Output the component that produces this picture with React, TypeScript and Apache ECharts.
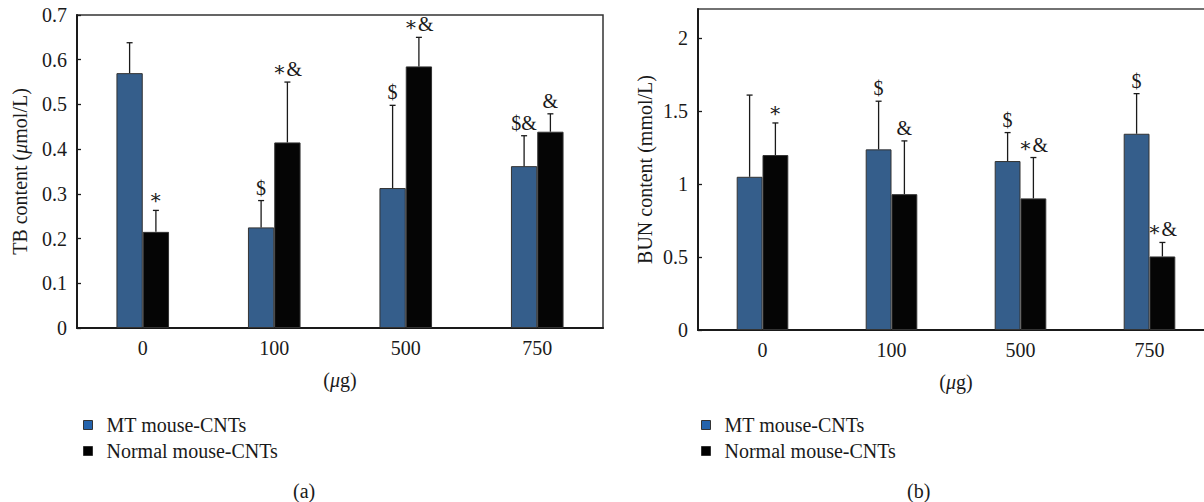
import React, { useEffect, useRef } from "react";
import * as echarts from "echarts";

const categories = ["0", "100", "500", "750"];
const seriesNames = ["MT mouse-CNTs", "Normal mouse-CNTs"];

// (a) TB content (μmol/L)
const tbMT = [0.57, 0.225, 0.313, 0.362];
const tbMTErr = [0.068, 0.06, 0.185, 0.068];
const tbMTMarks = ["", "$", "$", "$&"];
const tbNormal = [0.215, 0.415, 0.585, 0.439];
const tbNormalErr = [0.048, 0.135, 0.065, 0.04];
const tbNormalMarks = ["∗", "∗&", "∗&", "&"];
const tbTicks = { min: 0, max: 0.7, interval: 0.1 };

// (b) BUN content (mmol/L)
const bunMT = [1.05, 1.238, 1.158, 1.345];
const bunMTErr = [0.56, 0.33, 0.195, 0.275];
const bunMTMarks = ["", "$", "$", "$"];
const bunNormal = [1.199, 0.931, 0.902, 0.504];
const bunNormalErr = [0.22, 0.365, 0.28, 0.096];
const bunNormalMarks = ["∗", "&", "∗&", "∗&"];
const bunTicks = { min: 0, max: 2.2, interval: 0.5 };

const FONT = "'Liberation Serif', 'DejaVu Serif', serif";
const BLUE = "#355e8b";
const BLACK = "#050505";
const FS = 20;

function errSeries(
  idx: number,
  values: number[],
  errs: number[],
  marks: string[],
  sign: number
) {
  return {
    type: "custom",
    xAxisIndex: idx,
    yAxisIndex: idx,
    z: 5,
    silent: true,
    data: values.map((v, i) => [i, v, errs[i]]),
    renderItem: (params: any, api: any) => {
      const ci = api.value(0);
      const v = api.value(1);
      const e = api.value(2);
      const base = api.coord([ci, v]);
      const top = api.coord([ci, v + e]);
      const band = api.size([1, 0])[0];
      const x = base[0] + sign * band * 0.1;
      const stroke = { stroke: "#1a1a1a", lineWidth: 1.3 };
      const children: any[] = [
        { type: "line", shape: { x1: x, y1: base[1], x2: x, y2: top[1] }, style: stroke },
        { type: "line", shape: { x1: x - 3, y1: top[1], x2: x + 3, y2: top[1] }, style: stroke },
      ];
      const m = marks[params.dataIndex];
      if (m) {
        children.push({
          type: "text",
          x: x,
          y: top[1] - 3,
          style: {
            text: m,
            fontFamily: FONT,
            fontSize: FS,
            fill: "#1a1a1a",
            align: "center",
            verticalAlign: "bottom",
          },
        });
      }
      return { type: "group", children };
    },
  };
}

function barSeries(idx: number, name: string, values: number[], color: string) {
  return {
    type: "bar",
    name,
    xAxisIndex: idx,
    yAxisIndex: idx,
    data: values,
    barWidth: "20%",
    barGap: "0%",
    itemStyle: { color, borderColor: "#333", borderWidth: 1 },
  };
}

function legendFor(left: number) {
  return {
    orient: "vertical",
    left,
    top: 415,
    padding: 0,
    icon: "rect",
    itemWidth: 9,
    itemHeight: 9,
    itemGap: 6,
    selectedMode: false,
    textStyle: { fontFamily: FONT, fontSize: FS, color: "#1a1a1a", padding: [0, 0, 0, 9] },
    data: [
      { name: seriesNames[0], itemStyle: { color: "#2463ac", borderColor: "#333", borderWidth: 1 } },
      { name: seriesNames[1], itemStyle: { color: "#000", borderColor: "#333", borderWidth: 1 } },
    ],
  };
}

const axisLine = { show: true, lineStyle: { color: "#1a1a1a", width: 2 } };
const labelStyle = { fontFamily: FONT, fontSize: FS, color: "#1a1a1a" };

function xAxisFor(idx: number) {
  return {
    type: "category",
    gridIndex: idx,
    data: categories,
    axisLine,
    axisTick: { show: false },
    axisLabel: { ...labelStyle, margin: 10 },
    name: "({i|μ}g)",
    nameLocation: "middle",
    nameGap: 42,
    nameTextStyle: {
      ...labelStyle,
      rich: { i: { ...labelStyle, fontStyle: "italic" } },
    },
  };
}

function yAxisFor(idx: number, ticks: any, name: string, gap: number) {
  return {
    type: "value",
    gridIndex: idx,
    min: ticks.min,
    max: ticks.max,
    interval: ticks.interval,
    splitLine: { show: false },
    axisLine,
    axisTick: { show: true, inside: true, length: 4, lineStyle: { color: "#1a1a1a", width: 1.3 } },
    axisLabel: { ...labelStyle, margin: 10, showMaxLabel: ticks.max === 0.7 },
    name,
    nameLocation: "middle",
    nameGap: gap,
    nameTextStyle: {
      ...labelStyle,
      rich: { i: { ...labelStyle, fontStyle: "italic" } },
    },
  };
}

export default function App() {
  const ref = useRef<HTMLDivElement>(null);
  useEffect(() => {
    if (!ref.current) return;
    const chart = echarts.init(ref.current, null, { renderer: "svg" });
    chart.setOption({
      animation: false,
      backgroundColor: "#ffffff",
      grid: [
        { left: 77, top: 15, width: 526, height: 313, show: true, borderColor: "#333", borderWidth: 1.5 },
        { left: 698, top: 9, width: 516, height: 321, show: true, borderColor: "#444", borderWidth: 1.5 },
      ],
      legend: [legendFor(83), legendFor(701)],
      xAxis: [xAxisFor(0), xAxisFor(1)],
      yAxis: [
        yAxisFor(0, tbTicks, "TB content ({i|μ}mol/L)", 47),
        yAxisFor(1, bunTicks, "BUN content (mmol/L)", 43),
      ],
      graphic: [
        { type: "text", left: 293, top: 481, style: { text: "(a)", fontFamily: FONT, fontSize: FS, fill: "#1a1a1a" } },
        { type: "text", left: 907, top: 481, style: { text: "(b)", fontFamily: FONT, fontSize: FS, fill: "#1a1a1a" } },
      ],
      series: [
        barSeries(0, seriesNames[0], tbMT, BLUE),
        barSeries(0, seriesNames[1], tbNormal, BLACK),
        barSeries(1, seriesNames[0], bunMT, BLUE),
        barSeries(1, seriesNames[1], bunNormal, BLACK),
        errSeries(0, tbMT, tbMTErr, tbMTMarks, -1),
        errSeries(0, tbNormal, tbNormalErr, tbNormalMarks, 1),
        errSeries(1, bunMT, bunMTErr, bunMTMarks, -1),
        errSeries(1, bunNormal, bunNormalErr, bunNormalMarks, 1),
      ],
    });
    return () => chart.dispose();
  }, []);
  return (
    <div
      style={{
        position: "fixed",
        left: 0,
        top: 0,
        width: 1204,
        height: 502,
        overflow: "hidden",
        background: "#fff",
      }}
    >
      <div ref={ref} style={{ width: 1240, height: 502 }} />
    </div>
  );
}
